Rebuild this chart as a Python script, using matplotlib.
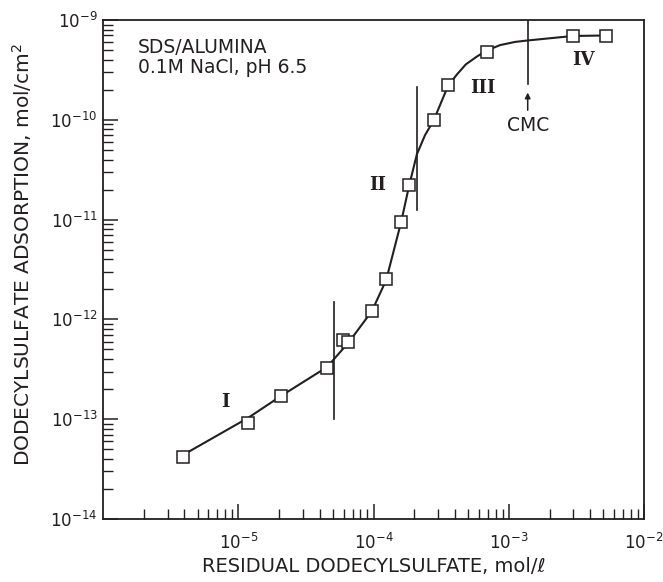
import matplotlib.pyplot as plt
from matplotlib.ticker import LogLocator, NullFormatter

# measured points (residual conc. mol/l, adsorption mol/cm2)
conc = [3.92e-6, 1.17e-5, 2.07e-5, 4.5e-5, 5.97e-5, 6.5e-5, 9.8e-5, 1.24e-4,
        1.6e-4, 1.83e-4, 2.79e-4, 3.58e-4, 6.92e-4, 3.0e-3, 5.24e-3]
ads = [4.2e-14, 9.1e-14, 1.72e-13, 3.28e-13, 6.2e-13, 5.9e-13, 1.21e-12, 2.52e-12,
       9.5e-12, 2.22e-11, 1.0e-10, 2.25e-10, 4.81e-10, 6.97e-10, 6.99e-10]

# hand drawn curve
curve_x = [3.9e-6, 1.18e-5, 2.07e-5, 4.53e-5, 6.58e-5, 9.72e-5, 1.24e-4, 1.6e-4,
           1.83e-4, 2.09e-4, 2.4e-4, 2.79e-4, 3.55e-4, 4.13e-4, 4.82e-4, 5.8e-4,
           6.89e-4, 8.59e-4, 1.11e-3, 1.38e-3, 2.98e-3, 5.22e-3]
curve_y = [4.38e-14, 1.03e-13, 1.71e-13, 3.33e-13, 5.94e-13, 1.21e-12, 2.48e-12, 9.46e-12,
           2.17e-11, 4.5e-11, 7.0e-11, 9.95e-11, 2.18e-10, 2.84e-10, 3.6e-10, 4.3e-10,
           4.95e-10, 5.6e-10, 6.03e-10, 6.24e-10, 6.92e-10, 7.0e-10]

# region boundaries: x, y bottom, y top
bounds = [(5.1e-5, 1.0e-13, 1.5e-12), (2.1e-4, 1.25e-11, 2.15e-10), (1.38e-3, 2.3e-10, 1e-9)]
regions = ['I', 'II', 'III', 'IV']
region_x = [7.98e-6, 1.08e-4, 6.44e-4, 3.59e-3]
region_y = [1.49e-13, 2.2e-11, 2.08e-10, 4.0e-10]

ink = '#231f20'

fig = plt.figure(figsize=(6.63, 5.82), dpi=100)
ax = fig.add_axes([0.1554, 0.1082, 0.816, 0.8574])

ax.plot(curve_x, curve_y, '-', color=ink, lw=1.5)
ax.plot(conc, ads, 's', ms=8.5, mfc='white', mec=ink, mew=1.1)

for bx, b0, b1 in bounds:
    ax.plot([bx, bx], [b0, b1], color=ink, lw=1.2)

for r, rx, ry in zip(regions, region_x, region_y):
    ax.text(rx, ry, r, ha='center', va='center', fontsize=13, family='DejaVu Serif',
            fontweight='bold', color=ink)

ax.annotate('', xy=(1.38e-3, 2.0e-10), xytext=(1.38e-3, 1.17e-10),
            arrowprops=dict(arrowstyle='-|>', color=ink, lw=1.1, mutation_scale=8))
ax.text(1.38e-3, 8.87e-11, 'CMC', ha='center', va='center', fontsize=13.5, color=ink)

ax.text(0.065, 0.925, 'SDS/ALUMINA\n0.1M NaCl, pH 6.5', transform=ax.transAxes,
        ha='left', va='center', fontsize=13.5, color=ink, linespacing=1.1)

ax.set_xscale('log')
ax.set_yscale('log')
ax.set_xlim(1e-6, 1e-2)
ax.set_ylim(1e-14, 1e-9)

ax.xaxis.set_minor_locator(LogLocator(base=10, subs=range(2, 10), numticks=10))
ax.yaxis.set_minor_locator(LogLocator(base=10, subs=range(2, 10), numticks=10))
ax.xaxis.set_minor_formatter(NullFormatter())
ax.yaxis.set_minor_formatter(NullFormatter())
ax.set_xticks([1e-5, 1e-4, 1e-3, 1e-2])

ax.tick_params(which='both', direction='in', top=False, right=False, color=ink,
               labelsize=12, labelcolor=ink)
ax.tick_params(which='major', length=11, width=1.1)
ax.tick_params(which='minor', length=7, width=1.0)
ax.tick_params(axis='x', pad=10)
ax.tick_params(axis='y', pad=4)
for s in ax.spines.values():
    s.set_color(ink)
    s.set_linewidth(1.3)

ax.set_xlabel('RESIDUAL DODECYLSULFATE, mol/\u2113', fontsize=14, color=ink, labelpad=3)
ax.set_ylabel('DODECYLSULFATE ADSORPTION, mol/cm$^2$', fontsize=14.5, color=ink)
ax.yaxis.set_label_coords(-0.128, 0.53)

fig.savefig('out.png', dpi=100)
